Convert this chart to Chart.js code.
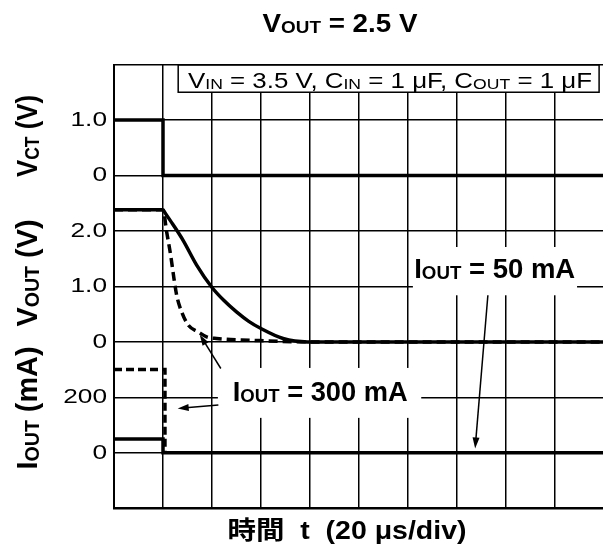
<!DOCTYPE html>
<html>
<head>
<meta charset="utf-8">
<script src="https://cdn.jsdelivr.net/npm/chart.js@4"></script>
<style>
  html, body { margin: 0; padding: 0; background: #fff; overflow: hidden; }
  #wrap { width: 605px; height: 548px; }
</style>
</head>
<body>
<div id="wrap"><canvas id="c" width="605" height="548"></canvas></div>
<script>
// time in divisions (20 us/div)
const vctT = [0, 1, 1, 10];
const vctV = [1.0, 1.0, 0, 0];

const vout50T = [0, 1.0, 1.2, 1.41, 1.69, 2.0, 2.25, 2.5, 2.75, 3.0, 3.45, 3.95, 10];
const vout50V = [2.38, 2.38, 2.12, 1.83, 1.38, 0.98, 0.74, 0.54, 0.37, 0.24, 0.06, 0.0, 0.0];

const vout300T = [0, 1.0, 1.075, 1.157, 1.224, 1.279, 1.381, 1.517, 1.72, 1.89, 2.095, 2.78, 3.9, 10];
const vout300V = [2.38, 2.38, 1.98, 1.56, 1.14, 0.84, 0.54, 0.30, 0.18, 0.09, 0.06, 0.03, 0.0, 0.0];

const iout50T = [0, 1, 1, 10];
const iout50I = [50, 50, 0, 0];

const iout300T = [0, 1.04, 1.04];
const iout300I = [300, 300, 0];

// each trace sits on its own band of the shared grid (in divisions)
const vctBase = 6, voutBase = 3, ioutBase = 1, mAPerDiv = 200;
const yTickLabels = ['', '0', '200', '0', '1.0', '2.0', '0', '1.0', ''];

const FAM = "'Liberation Sans', Arial, 'Noto Sans CJK JP', sans-serif";

function pts(ts, vs, fn) {
    return ts.map((t, i) => ({ x: t, y: fn(vs[i]) }));
}

function line(data, dash, smooth) {
    return {
        data: data,
        borderColor: '#000',
        borderWidth: 3.5,
        borderDash: dash || [],
        pointRadius: 0,
        tension: 0,
        cubicInterpolationMode: smooth ? 'monotone' : 'default',
        borderCapStyle: 'butt',
        borderJoinStyle: 'miter',
        fill: false
    };
}

// draw text made of parts, subscripts in smaller letters
function richText(ctx, parts, o) {
    const w = o.bold ? 'bold ' : '';
    const sub = o.size * 0.68;
    ctx.save();
    let total = 0;
    const widths = parts.map(p => {
        ctx.font = w + (p.sub ? sub : o.size) + 'px ' + FAM;
        const m = ctx.measureText(p.t).width;
        total += m;
        return m;
    });
    const sx = o.width ? o.width / total : (o.sx || 1);
    ctx.translate(o.x, o.y);
    if (o.rot) ctx.rotate(o.rot);
    ctx.scale(sx, o.sy || 1);
    let pos = o.align === 'center' ? -total / 2 : o.align === 'right' ? -total : 0;
    ctx.textAlign = 'left';
    ctx.textBaseline = o.baseline || 'alphabetic';
    ctx.fillStyle = '#000';
    parts.forEach((p, i) => {
        ctx.font = w + (p.sub ? sub : o.size) + 'px ' + FAM;
        ctx.fillText(p.t, pos, p.sub ? 1 : 0);
        pos += widths[i];
    });
    ctx.restore();
}

function arrow(ctx, x1, y1, x2, y2) {
    const a = Math.atan2(y2 - y1, x2 - x1);
    ctx.save();
    ctx.strokeStyle = '#000';
    ctx.fillStyle = '#000';
    ctx.lineWidth = 1.5;
    ctx.beginPath();
    ctx.moveTo(x1, y1);
    ctx.lineTo(x2 - 8 * Math.cos(a), y2 - 8 * Math.sin(a));
    ctx.stroke();
    ctx.translate(x2, y2);
    ctx.rotate(a);
    ctx.beginPath();
    ctx.moveTo(0, 0);
    ctx.lineTo(-11, -3.5);
    ctx.lineTo(-11, 3.5);
    ctx.closePath();
    ctx.fill();
    ctx.restore();
}

const decor = {
    id: 'decor',
    afterDatasetsDraw(chart) {
        const ctx = chart.ctx;
        const X = v => chart.scales.x.getPixelForValue(v);
        const Y = v => chart.scales.y.getPixelForValue(v);

        // condition box
        ctx.save();
        ctx.fillStyle = '#fff';
        ctx.fillRect(X(1.31), Y(7.99), X(9.9) - X(1.31), Y(7.5) - Y(7.99));
        ctx.strokeStyle = '#000';
        ctx.lineWidth = 1.5;
        ctx.strokeRect(X(1.31), Y(7.99), X(9.9) - X(1.31), Y(7.5) - Y(7.99));
        // label backgrounds
        ctx.fillRect(X(6.1), Y(4.71), X(9.45) - X(6.1), Y(3.84) - Y(4.71));
        ctx.fillRect(X(2.12), Y(2.53), X(6.27) - X(2.12), Y(1.63) - Y(2.53));
        ctx.restore();

        richText(ctx, [{ t: 'V' }, { t: 'IN', sub: true }, { t: ' = 3.5 V, C' }, { t: 'IN', sub: true },
            { t: ' = 1 μF, C' }, { t: 'OUT', sub: true }, { t: ' = 1 μF' }],
            { x: X(1.51), y: Y(7.57), size: 22, width: 404, align: 'left' });

        richText(ctx, [{ t: 'I' }, { t: 'OUT', sub: true }, { t: ' = 50 mA' }],
            { x: X(7.77), y: Y(4.15), size: 27, bold: true, width: 161, align: 'center' });
        richText(ctx, [{ t: 'I' }, { t: 'OUT', sub: true }, { t: ' = 300 mA' }],
            { x: X(4.21), y: Y(1.93), size: 27, bold: true, width: 175, align: 'center' });

        arrow(ctx, X(7.63), Y(3.84), X(7.37), Y(1.08));
        arrow(ctx, X(2.18), Y(2.52), X(1.75), Y(3.13));
        arrow(ctx, X(2.13), Y(1.86), X(1.3), Y(1.8));

        // tick labels
        const xl = chart.chartArea.left - 7;
        yTickLabels.forEach((s, i) => {
            if (s) richText(ctx, [{ t: s }], { x: xl, y: Y(i), size: 21, sx: 1.25, align: 'right', baseline: 'middle' });
        });

        // band titles
        const rot = -Math.PI / 2;
        richText(ctx, [{ t: 'V' }, { t: 'CT', sub: true }, { t: ' (V)' }],
            { x: 37, y: 136, size: 20, bold: true, width: 82, sy: 1.5, rot: rot, align: 'center' });
        richText(ctx, [{ t: 'V' }, { t: 'OUT', sub: true }, { t: ' (V)' }],
            { x: 37, y: 273, size: 20, bold: true, width: 107, sy: 1.5, rot: rot, align: 'center' });
        richText(ctx, [{ t: 'I' }, { t: 'OUT', sub: true }, { t: ' (mA)' }],
            { x: 37, y: 408, size: 20, bold: true, width: 123, sy: 1.5, rot: rot, align: 'center' });

        // title and time axis
        richText(ctx, [{ t: 'V' }, { t: 'OUT', sub: true }, { t: ' = 2.5 V' }],
            { x: 340, y: 32, size: 25, bold: true, width: 155, align: 'center' });
        richText(ctx, [{ t: '時間  t  (20 μs/div)' }],
            { x: 347, y: 539, size: 25, bold: true, width: 239, align: 'center' });
    }
};

const v50 = pts(vout50T, vout50V, v => voutBase + v);

const chart = new Chart(document.getElementById('c').getContext('2d'), {
    type: 'line',
    data: {
        datasets: [
            line(pts(vctT, vctV, v => vctBase + v)),
            line(pts(vout300T, vout300V, v => voutBase + v), [9, 5], true),
            line(v50.slice(0, 2)),
            line(v50.slice(1), null, true),
            line(pts(iout300T, iout300I, v => ioutBase + v / mAPerDiv), [8, 4]),
            line(pts(iout50T, iout50I, v => ioutBase + v / mAPerDiv))
        ]
    },
    options: {
        responsive: false,
        animation: false,
        layout: { padding: { left: 114, top: 64.5, right: 1, bottom: 39.7 } },
        scales: {
            x: {
                type: 'linear', min: 0, max: 10,
                ticks: { display: false, stepSize: 1 },
                grid: { color: '#000', lineWidth: 1.5, drawTicks: false },
                border: { color: '#000', width: 2 }
            },
            y: {
                type: 'linear', min: 0, max: 8,
                ticks: { display: false, stepSize: 1 },
                grid: { color: '#000', lineWidth: 1.5, drawTicks: false },
                border: { color: '#000', width: 2 }
            }
        },
        plugins: {
            legend: { display: false },
            tooltip: { enabled: false },
            title: { display: false }
        }
    },
    plugins: [decor]
});
</script>
</body>
</html>
